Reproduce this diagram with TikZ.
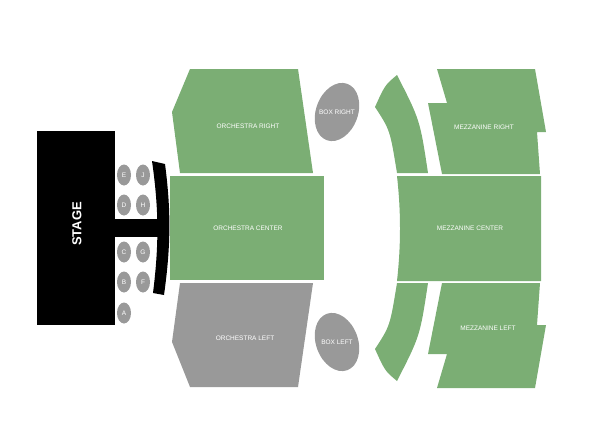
\documentclass[tikz,border=0pt]{standalone}
\usepackage{fontspec}
\setmainfont{Liberation Sans}
\usetikzlibrary{shapes.geometric}
\begin{document}
\begin{tikzpicture}[x=1pt,y=-1pt,
  sec/.style={fill=grn,draw=none},
  gsec/.style={fill=gry,draw=none},
  lbl/.style={text=white,font=\fontsize{6.5}{7}\selectfont,inner sep=0pt},
  seat/.style={ellipse,fill=gry,minimum width=14pt,minimum height=21pt,inner sep=0pt,text=white,font=\fontsize{6.5}{7}\selectfont}]
\definecolor{grn}{HTML}{7BAE74}
\definecolor{gry}{HTML}{999999}
\useasboundingbox (0,0) rectangle (602,442);
% stage
\fill (37,131) rectangle (115,325);
\node[text=white,font=\bfseries\fontsize{13}{14}\selectfont,rotate=90] (stage) at (77,224) {STAGE};
\fill (115,219) rectangle (158,237);
\fill (152,161) -- (165,164) .. controls (171,210) and (171,245) .. (164,295) -- (153,293) .. controls (159,245) and (159,210) .. cycle;
% seats
\foreach \n/\x/\y in {E/124/175,J/143/175,D/124/205,H/143/205,C/124/252,G/143/252,B/124/282,F/143/282,A/124/313}
  \node[seat] (s\n) at (\x,\y) {\n};
% orchestra
\fill[sec] (190,69) -- (298,69) -- (313,173) -- (180,173) -- (172,112) -- cycle;
\node[lbl] (or) at (248,126) {ORCHESTRA RIGHT};
\fill[sec] (170,176) rectangle (324,280);
\node[lbl] (oc) at (248,228) {ORCHESTRA CENTER};
\fill[gsec] (180,283) -- (313,283) -- (298,387) -- (190,387) -- (172,342) -- cycle;
\node[lbl] (ol) at (245,338) {ORCHESTRA LEFT};
% boxes
\fill[gsec,rotate around={-20:(337,112)}] (337,112) ellipse (21 and 30);
\node[lbl] (br) at (337,112) {BOX RIGHT};
\fill[gsec,rotate around={20:(337,342)}] (337,342) ellipse (21 and 30);
\node[lbl] (bl) at (337,342) {BOX LEFT};
% mezzanine arcs
\fill[sec] (397,75) .. controls (385,85) .. (375,107) .. controls (390,130) .. (397,173) -- (428,173) .. controls (420,120) .. (397,75);
\fill[sec] (397,381) .. controls (385,371) .. (375,349) .. controls (390,326) .. (397,283) -- (428,283) .. controls (420,336) .. (397,381);
% mezzanine
\fill[sec] (437,69) -- (535,69) -- (546,132) -- (537,132) -- (540,174) -- (442,174) -- (428,103) -- (447,103) -- cycle;
\node[lbl] (mr) at (484,127) {MEZZANINE RIGHT};
\fill[sec] (397,176) -- (541,176) -- (541,281) -- (397,281) .. controls (401,245) and (401,212) .. cycle;
\node[lbl] (mc) at (470,228) {MEZZANINE CENTER};
\fill[sec] (437,388) -- (535,388) -- (546,325) -- (537,325) -- (540,283) -- (442,283) -- (428,354) -- (447,354) -- cycle;
\node[lbl] (ml) at (488,328) {MEZZANINE LEFT};
\end{tikzpicture}
\end{document}
